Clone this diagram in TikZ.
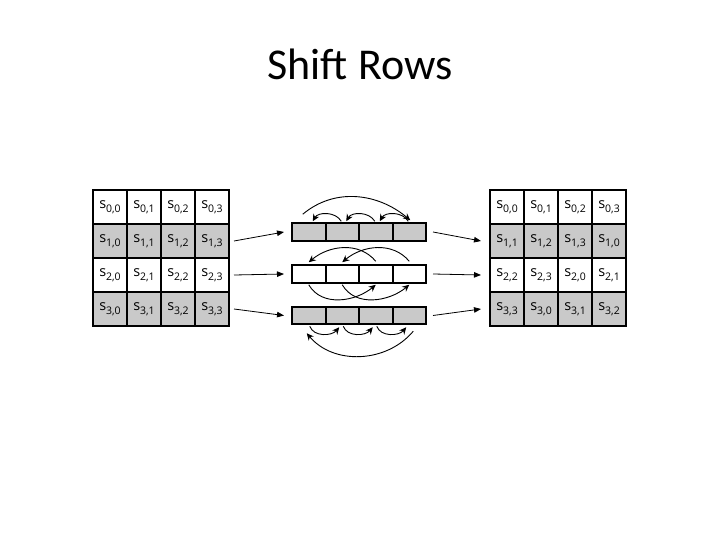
\documentclass[tikz,border=0pt]{standalone}
\usepackage{fontspec}
\setmainfont{Open Sans}
\newfontfamily\titlefont{Carlito}
\usetikzlibrary{arrows.meta}

\newcommand{\sv}[2]{s\raisebox{-3.5pt}{\fontsize{10.5}{10.5}\selectfont #1,#2}}

\tikzset{
    cell/.style={draw=black, line width=2pt, minimum width=34pt, minimum height=34pt, inner sep=0pt, font=\fontsize{14.5}{14.5}\selectfont},
    slot/.style={draw=black, line width=2pt, minimum width=33.5pt, minimum height=17.5pt, inner sep=0pt},
    shaded/.style={fill=gray!42},
    feed/.style={-{Triangle[length=7pt,width=5.5pt]}, line width=0.8pt},
    move/.style={-{Stealth[length=7pt,width=6.5pt]}, line width=0.9pt},
}

\begin{document}
\begin{tikzpicture}[x=1pt, y=-1pt]
    \useasboundingbox (0,0) rectangle (720,540);
    \def\cellsize{34}
    \def\slotsize{33.5}

    \node[font=\titlefont\fontsize{44}{44}\selectfont, anchor=base] (title) at (360,80) {Shift Rows};

    % input and output state
    \foreach \r in {0,...,3} {
        \foreach \c in {0,...,3} {
            \pgfmathtruncatemacro{\sc}{mod(\c+\r,4)}
            \ifodd\r
                \node[cell, shaded] (L-\r-\c) at (110+\cellsize*\c, 207+\cellsize*\r) {\sv{\r}{\c}};
                \node[cell, shaded] (R-\r-\c) at (507+\cellsize*\c, 207+\cellsize*\r) {\sv{\r}{\sc}};
            \else
                \node[cell] (L-\r-\c) at (110+\cellsize*\c, 207+\cellsize*\r) {\sv{\r}{\c}};
                \node[cell] (R-\r-\c) at (507+\cellsize*\c, 207+\cellsize*\r) {\sv{\r}{\sc}};
            \fi
        }
    }

    % the three shifted rows
    \foreach \r/\y/\f in {1/232/shaded, 2/274/, 3/315.5/shaded} {
        \foreach \c in {0,...,3} {
            \node[slot, \f] (B-\r-\c) at (308.75+\slotsize*\c, \y) {};
        }
        \draw[feed] ([xshift=4pt]L-\r-3.east) -- ([xshift=-7pt]B-\r-0.west);
        \draw[feed] ([xshift=6pt]B-\r-3.east) -- ([xshift=-8pt]R-\r-0.west);
    }

    % row 1: one to the left
    \foreach \c/\d in {1/0, 2/1, 3/2} {
        \draw[move] ([xshift=-1pt,yshift=1pt]B-1-\c.north) to[out=120, in=60] ([xshift=4pt,yshift=1pt]B-1-\d.north);
    }
    \draw[move] ([xshift=-6pt,yshift=8pt]B-1-0.north) to[out=40, in=140] ([xshift=1pt,yshift=2pt]B-1-3.north);

    % row 2: two to the left
    \draw[move] ([yshift=3pt]B-2-2.north) to[out=130, in=40] ([yshift=2pt]B-2-0.north);
    \draw[move] ([yshift=3pt]B-2-3.north) to[out=130, in=40] ([yshift=2pt]B-2-1.north);
    \draw[move] ([yshift=-1pt]B-2-0.south) to[out=-60, in=-140] ([yshift=-1pt]B-2-2.south);
    \draw[move] ([yshift=-1pt]B-2-1.south) to[out=-60, in=-140] ([yshift=-1pt]B-2-3.south);

    % row 3: three to the left
    \foreach \c/\d in {0/1, 1/2, 2/3} {
        \draw[move] ([xshift=1pt,yshift=-1pt]B-3-\c.south) to[out=-70, in=-130] ([xshift=-3pt,yshift=-2pt]B-3-\d.south);
    }
    \draw[move] ([xshift=4pt,yshift=-6pt]B-3-3.south) to[out=-130, in=-50] ([xshift=-2pt,yshift=-8pt]B-3-0.south);
\end{tikzpicture}
\end{document}
